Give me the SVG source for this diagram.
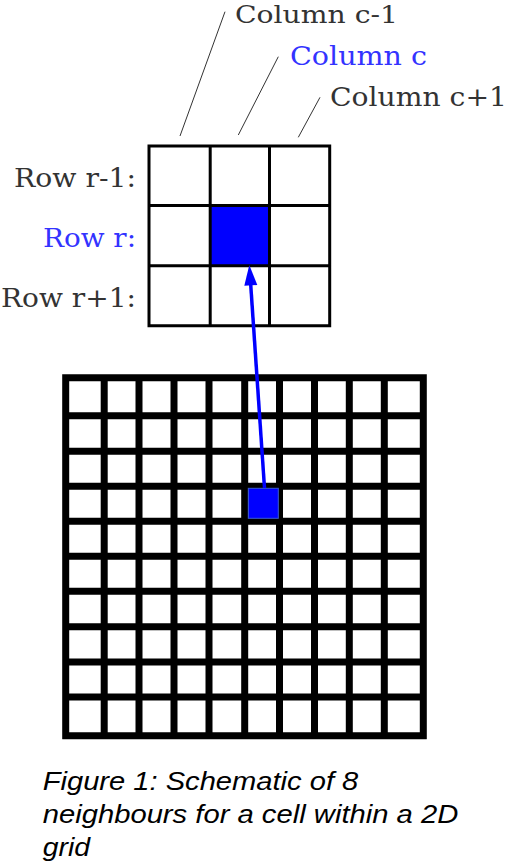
<svg xmlns="http://www.w3.org/2000/svg" width="516" height="868" viewBox="0 0 516 868">
<style>
.lbl{font-family:"DejaVu Serif","Liberation Serif",serif;font-size:26.5px;fill:#333}
.blue{fill:#3333ff}
.cap{font-family:"Liberation Sans",Arial,sans-serif;font-size:26px;font-style:italic;fill:#000}
.lead{stroke:#333;stroke-width:1;fill:none}
</style>
<rect width="516" height="868" fill="#fff"/>
<g id="column-labels">
<text class="lbl" x="235" y="22.5" style="font-size:24.5px" textLength="163" lengthAdjust="spacingAndGlyphs">Column c-1</text>
<text class="lbl blue" x="290" y="65" textLength="137" lengthAdjust="spacingAndGlyphs">Column c</text>
<text class="lbl" x="330" y="106" textLength="177" lengthAdjust="spacingAndGlyphs">Column c+1</text>
<line class="lead" x1="225" y1="11.7" x2="180" y2="136"/>
<line class="lead" x1="278.3" y1="56.7" x2="238.3" y2="135"/>
<line class="lead" x1="320" y1="97.3" x2="298.3" y2="137.3"/>
</g>
<g id="row-labels">
<text class="lbl" x="136" y="186.7" text-anchor="end" textLength="122" lengthAdjust="spacingAndGlyphs">Row r-1:</text>
<text class="lbl blue" x="136" y="247.3" text-anchor="end" textLength="93" lengthAdjust="spacingAndGlyphs">Row r:</text>
<text class="lbl" x="136" y="306.7" text-anchor="end" textLength="135" lengthAdjust="spacingAndGlyphs">Row r+1:</text>
</g>
<g id="neighbourhood">
<rect x="210" y="205.5" width="59.5" height="60.3" fill="#0000ff"/>
<path d="M149 146H329.7V325.7H149Z M210.2 146V325.7 M269.5 146V325.7 M149 205.5H329.7 M149 265.8H329.7" fill="none" stroke="#000" stroke-width="3"/>
</g>
<g id="grid">
<path d="M65.7 374.3V739 M104.2 374.3V739 M139 374.3V739 M174 374.3V739 M209 374.3V739 M244.7 374.3V739 M279.5 374.3V739 M314.5 374.3V739 M349.3 374.3V739 M384.3 374.3V739 M423.3 374.3V739 M62.3 377.7H426.7 M62.3 415.8H426.7 M62.3 451.3H426.7 M62.3 486.2H426.7 M62.3 521.3H426.7 M62.3 556.3H426.7 M62.3 591.3H426.7 M62.3 626.7H426.7 M62.3 662H426.7 M62.3 697H426.7 M62.3 735.7H426.7" fill="none" stroke="#000" stroke-width="7"/>
<rect x="248.3" y="488.3" width="30" height="30" fill="#0000ff" stroke="#3a5ad0" stroke-width="1"/>
</g>
<g id="connectors">
<line x1="264.5" y1="488" x2="250.6" y2="283" stroke="#0000ff" stroke-width="3.5"/>
<polygon points="249.3,265 257.3,285 244.3,285.8" fill="#0000ff"/>
</g>
<g id="caption">
<text class="cap" x="42.7" y="790" textLength="315.6" lengthAdjust="spacingAndGlyphs">Figure 1: Schematic of 8</text>
<text class="cap" x="42.7" y="822.7" textLength="415.6" lengthAdjust="spacingAndGlyphs">neighbours for a cell within a 2D</text>
<text class="cap" x="42.7" y="856" textLength="47.3" lengthAdjust="spacingAndGlyphs">grid</text>
</g>
</svg>
